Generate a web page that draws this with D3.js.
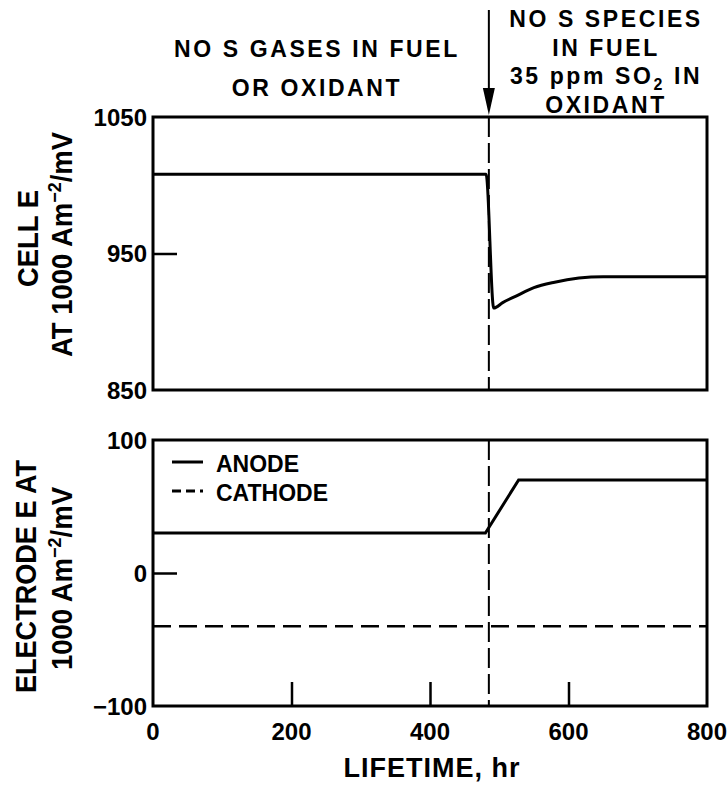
<!DOCTYPE html>
<html>
<head>
<meta charset="utf-8">
<script src="https://cdn.jsdelivr.net/npm/d3@7"></script>
<style>
	body { margin: 0; background: #fff; }
	svg text { font-family: "Liberation Sans", Arial, sans-serif; font-weight: bold; fill: #000; }
</style>
</head>
<body>
<svg id="chart" width="728" height="790"></svg>
<script>
// Data
var cellHours = [0, 481, 492, 505, 525, 550, 580, 615, 650, 800]
var cellE = [1008, 1008, 910, 914, 919, 925, 929, 932, 933, 933]

var anodeHours = [0, 480, 528, 800]
var anodeE = [30, 30, 70, 70]
var cathodeHours = [0, 800]
var cathodeE = [-40, -40]

var eventHour = 485

var xTicks = [0, 200, 400, 600, 800]
var topTicks = [850, 950, 1050]
var bottomTicks = [-100, 0, 100]

var svg = d3.select("#chart")

var left = 153, right = 707
var x = d3.scaleLinear().domain([0, 800]).range([left, right])
var yTop = d3.scaleLinear().domain([850, 1050]).range([390, 117])
var yBot = d3.scaleLinear().domain([-100, 100]).range([706, 440])

function zip(xs, ys) {
	return xs.map(function(h, i) { return [h, ys[i]] })
}

// Frame of a panel plus its inward ticks
function panel(y, yt, showX) {
	var g = svg.append("g")
	g.append("rect")
		.attr("x", x(0)).attr("y", y.range()[1])
		.attr("width", x(800) - x(0)).attr("height", y.range()[0] - y.range()[1])
		.attr("fill", "none").attr("stroke", "#000").attr("stroke-width", 3)

	// only the middle y tick is drawn, pointing inward
	g.append("g")
		.attr("transform", "translate(" + x(0) + ",0)")
		.call(d3.axisRight(y).tickValues(yt).tickSize(24).tickFormat(""))
		.call(function(a) {
			a.select(".domain").remove()
			a.selectAll(".tick line").attr("stroke-width", 2.5)
				.attr("display", function(d) { return d === yt[1] ? null : "none" })
		})
	g.selectAll(".ylab")
		.data(yt)
		.enter().append("text")
		.attr("x", x(0) - 6)
		.attr("y", function(d) { return y(d) })
		.attr("dy", "0.36em")
		.attr("text-anchor", "end")
		.style("font-size", "24px")
		.text(function(d) { return d < 0 ? "\u2212" + Math.abs(d) : d })

	if (showX) {
		g.append("g")
			.attr("transform", "translate(0," + y.range()[0] + ")")
			.call(d3.axisTop(x).tickValues(xTicks).tickSize(24).tickFormat(""))
			.call(function(a) {
				a.select(".domain").remove()
				a.selectAll(".tick line").attr("stroke-width", 2.5)
					.attr("display", function(d) { return d === 0 || d === 800 ? "none" : null })
			})
		g.selectAll(".xlab")
			.data(xTicks)
			.enter().append("text")
			.attr("x", function(d) { return x(d) })
			.attr("y", y.range()[0] + 34)
			.attr("text-anchor", "middle")
			.style("font-size", "24px")
			.text(function(d) { return d })
	}
}

panel(yTop, topTicks, false)
panel(yBot, bottomTicks, true)

// Event line (switch of gas composition)
var evt = svg.append("g")
evt.append("line")
	.attr("x1", x(eventHour)).attr("x2", x(eventHour))
	.attr("y1", yTop.range()[1]).attr("y2", yTop.range()[0])
	.attr("stroke", "#000").attr("stroke-width", 2).attr("stroke-dasharray", "20,6")
evt.append("line")
	.attr("x1", x(eventHour)).attr("x2", x(eventHour))
	.attr("y1", yBot.range()[1]).attr("y2", yBot.range()[0])
	.attr("stroke", "#000").attr("stroke-width", 2).attr("stroke-dasharray", "20,6")
// Arrow above the plot
evt.append("line")
	.attr("x1", x(eventHour)).attr("x2", x(eventHour))
	.attr("y1", 10).attr("y2", 95)
	.attr("stroke", "#000").attr("stroke-width", 2)
evt.append("path")
	.attr("d", "M" + (x(eventHour) - 6) + ",88 L" + (x(eventHour) + 6) + ",88 L" + x(eventHour) + ",115 Z")
	.attr("fill", "#000")

// Curves
var cellLine = d3.line()
	.curve(d3.curveMonotoneX)
	.x(function(d) { return x(d[0]) })
	.y(function(d) { return yTop(d[1]) })
svg.append("path")
	.attr("d", cellLine(zip(cellHours, cellE)))
	.attr("fill", "none").attr("stroke", "#000").attr("stroke-width", 3)

var botLine = d3.line()
	.x(function(d) { return x(d[0]) })
	.y(function(d) { return yBot(d[1]) })
svg.append("path")
	.attr("d", botLine(zip(anodeHours, anodeE)))
	.attr("fill", "none").attr("stroke", "#000").attr("stroke-width", 3)
svg.append("path")
	.attr("d", botLine(zip(cathodeHours, cathodeE)))
	.attr("fill", "none").attr("stroke", "#000").attr("stroke-width", 2.5)
	.attr("stroke-dasharray", "18,8")

// Legend
var legend = svg.append("g")
legend.append("line").attr("x1", 172).attr("x2", 203).attr("y1", 462).attr("y2", 462)
	.attr("stroke", "#000").attr("stroke-width", 3)
legend.append("line").attr("x1", 172).attr("x2", 203).attr("y1", 491).attr("y2", 491)
	.attr("stroke", "#000").attr("stroke-width", 3).attr("stroke-dasharray", "9,5")
legend.append("text").attr("x", 216).attr("y", 472).style("font-size", "23px").text("ANODE")
legend.append("text").attr("x", 216).attr("y", 501).style("font-size", "23px").text("CATHODE")

// Annotations
function block(lines, cx, ys) {
	lines.forEach(function(t, i) {
		svg.append("text")
			.attr("x", cx).attr("y", ys[i])
			.attr("text-anchor", "middle")
			.style("font-size", "23px").style("letter-spacing", "2.6px")
			.html(t)
	})
}
block(["NO S GASES IN FUEL", "OR OXIDANT"], 317, [57, 96])
block(["NO S SPECIES", "IN FUEL", "35 ppm SO<tspan dy='6' style='font-size:16px'>2</tspan><tspan dy='-6'> IN</tspan>", "OXIDANT"],
	606, [27, 56, 84, 113])

// X title
svg.append("text")
	.attr("x", 432).attr("y", 777)
	.attr("text-anchor", "middle")
	.style("font-size", "27px").style("letter-spacing", "1px")
	.text("LIFETIME, hr")

// Y titles: rotated, placed by the screen y where each line starts and ends
function ytitle(html, baseX, y0, y1) {
	svg.append("text")
		.attr("transform", "rotate(-90)")
		.attr("x", -y0).attr("y", baseX)
		.attr("textLength", y0 - y1).attr("lengthAdjust", "spacingAndGlyphs")
		.style("font-size", "29px")
		.html(html)
}
var unit = "Am<tspan dy='-11' style='font-size:19px'>\u22122</tspan><tspan dy='11'>/mV</tspan>"
ytitle("CELL E", 38, 287, 190)
ytitle("AT 1000 " + unit, 72, 357, 132)
ytitle("ELECTRODE E AT", 36, 693, 460)
ytitle("1000 " + unit, 72, 670, 487)
</script>
</body>
</html>
